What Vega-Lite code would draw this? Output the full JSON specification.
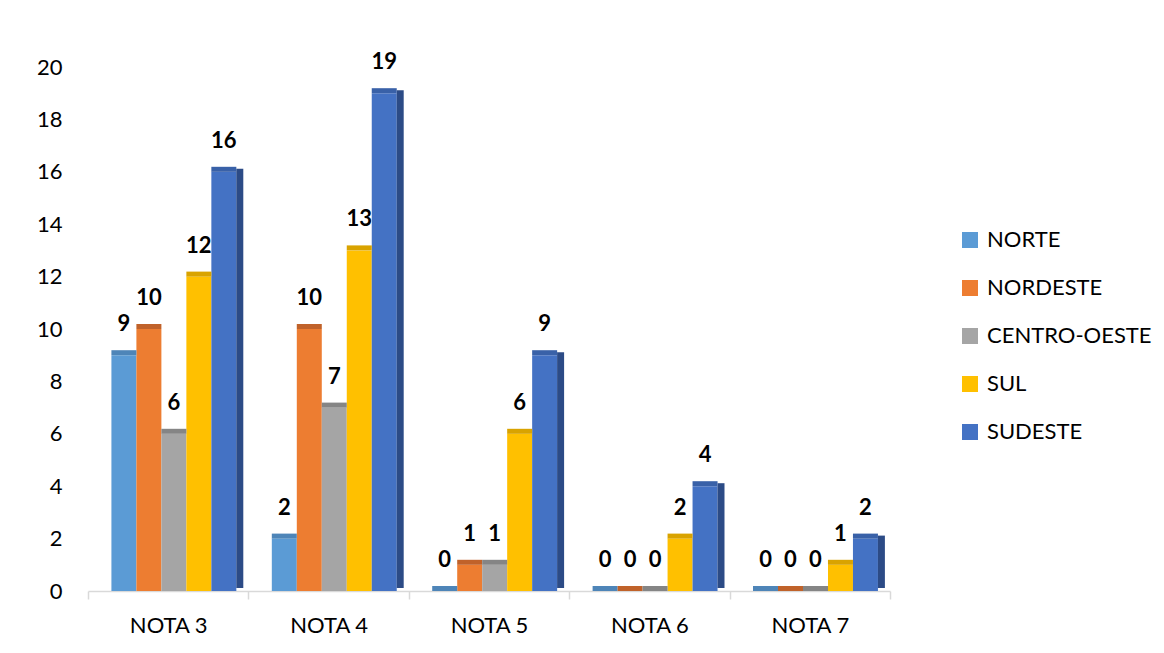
{
  "$schema": "https://vega.github.io/schema/vega-lite/v6.json",
  "width": 802,
  "height": 524,
  "autosize": {"type": "none"},
  "padding": {"left": 88, "top": 67, "right": 274, "bottom": 62},
  "background": "white",
  "config": {"font": "Lato", "view": {"stroke": null}},
  "data": {"values": [
    {"nota": "NOTA 3", "regiao": "NORTE", "valor": 9},
    {"nota": "NOTA 3", "regiao": "NORDESTE", "valor": 10},
    {"nota": "NOTA 3", "regiao": "CENTRO-OESTE", "valor": 6},
    {"nota": "NOTA 3", "regiao": "SUL", "valor": 12},
    {"nota": "NOTA 3", "regiao": "SUDESTE", "valor": 16},
    {"nota": "NOTA 4", "regiao": "NORTE", "valor": 2},
    {"nota": "NOTA 4", "regiao": "NORDESTE", "valor": 10},
    {"nota": "NOTA 4", "regiao": "CENTRO-OESTE", "valor": 7},
    {"nota": "NOTA 4", "regiao": "SUL", "valor": 13},
    {"nota": "NOTA 4", "regiao": "SUDESTE", "valor": 19},
    {"nota": "NOTA 5", "regiao": "NORTE", "valor": 0},
    {"nota": "NOTA 5", "regiao": "NORDESTE", "valor": 1},
    {"nota": "NOTA 5", "regiao": "CENTRO-OESTE", "valor": 1},
    {"nota": "NOTA 5", "regiao": "SUL", "valor": 6},
    {"nota": "NOTA 5", "regiao": "SUDESTE", "valor": 9},
    {"nota": "NOTA 6", "regiao": "NORTE", "valor": 0},
    {"nota": "NOTA 6", "regiao": "NORDESTE", "valor": 0},
    {"nota": "NOTA 6", "regiao": "CENTRO-OESTE", "valor": 0},
    {"nota": "NOTA 6", "regiao": "SUL", "valor": 2},
    {"nota": "NOTA 6", "regiao": "SUDESTE", "valor": 4},
    {"nota": "NOTA 7", "regiao": "NORTE", "valor": 0},
    {"nota": "NOTA 7", "regiao": "NORDESTE", "valor": 0},
    {"nota": "NOTA 7", "regiao": "CENTRO-OESTE", "valor": 0},
    {"nota": "NOTA 7", "regiao": "SUL", "valor": 1},
    {"nota": "NOTA 7", "regiao": "SUDESTE", "valor": 2}
  ]},
  "encoding": {
    "x": {
      "field": "nota", "type": "nominal", "title": null,
      "scale": {"paddingInner": 0, "paddingOuter": 0},
      "axis": {
        "labelAngle": 0, "labelFontSize": 22, "labelColor": "#000000",
        "domainColor": "#D9D9D9", "domainWidth": 1.5,
        "tickColor": "#D9D9D9", "tickWidth": 1.5, "tickSize": 8,
        "bandPosition": 0, "tickBand": "extent",
        "labelPadding": 16, "grid": false
      }
    },
    "y": {
      "field": "valor", "type": "quantitative", "title": null,
      "scale": {"domain": [0, 20], "nice": false},
      "axis": {
        "values": [0, 2, 4, 6, 8, 10, 12, 14, 16, 18, 20],
        "domain": false, "ticks": false, "grid": false,
        "labelFontSize": 22, "labelColor": "#000000", "labelPadding": 26
      }
    }
  },
  "layer": [
    {
      "mark": {"type": "bar"},
      "encoding": {
        "xOffset": {
          "field": "regiao", "type": "nominal",
          "sort": ["NORTE", "NORDESTE", "CENTRO-OESTE", "SUL", "SUDESTE"],
          "scale": {"type": "band", "domain": ["NORTE", "NORDESTE", "CENTRO-OESTE", "SUL", "SUDESTE"], "paddingInner": 0, "paddingOuter": 0.71, "align": 0.66}
        },
        "color": {
          "field": "regiao", "type": "nominal", "title": null,
          "scale": {
            "domain": ["NORTE", "NORDESTE", "CENTRO-OESTE", "SUL", "SUDESTE"],
            "range": ["#5B9BD5", "#ED7D31", "#A5A5A5", "#FFC000", "#4472C4"]
          },
          "legend": {
            "orient": "none", "legendX": 871, "legendY": 162,
            "symbolType": "square", "symbolSize": 256, "symbolStrokeWidth": 0,
            "labelFontSize": 22, "labelColor": "#000000", "labelOffset": 6,
            "labelLimit": 300, "rowPadding": 26
          }
        }
      }
    },
    {
      "transform": [{"filter": "datum.regiao === 'SUDESTE'"}],
      "mark": {"type": "bar", "width": 7, "xOffset": 71.6, "yOffset": -3, "color": "#2C4B86"}
    },
    {
      "mark": {"type": "tick", "orient": "horizontal", "size": 25, "thickness": 5, "yOffset": -2.5, "opacity": 1},
      "encoding": {
        "xOffset": {
          "field": "regiao", "type": "nominal",
          "sort": ["NORTE", "NORDESTE", "CENTRO-OESTE", "SUL", "SUDESTE"],
          "scale": {"type": "band", "domain": ["NORTE", "NORDESTE", "CENTRO-OESTE", "SUL", "SUDESTE"], "paddingInner": 0, "paddingOuter": 0.71, "align": 0.66}
        },
        "color": {
          "field": "regiao", "type": "nominal", "legend": null,
          "scale": {
            "domain": ["NORTE", "NORDESTE", "CENTRO-OESTE", "SUL", "SUDESTE"],
            "range": ["#4E85B8", "#C0622A", "#858585", "#D9A300", "#3961A8"]
          }
        }
      }
    },
    {
      "mark": {"type": "text", "baseline": "bottom", "dy": -19, "fontSize": 22, "fontWeight": "bold", "color": "#000000"},
      "encoding": {
        "xOffset": {
          "field": "regiao", "type": "nominal",
          "sort": ["NORTE", "NORDESTE", "CENTRO-OESTE", "SUL", "SUDESTE"],
          "scale": {"type": "band", "domain": ["NORTE", "NORDESTE", "CENTRO-OESTE", "SUL", "SUDESTE"], "paddingInner": 0, "paddingOuter": 0.71, "align": 0.66}
        },
        "text": {"field": "valor", "type": "quantitative"}
      }
    }
  ],
  "resolve": {"scale": {"color": "independent"}}
}
